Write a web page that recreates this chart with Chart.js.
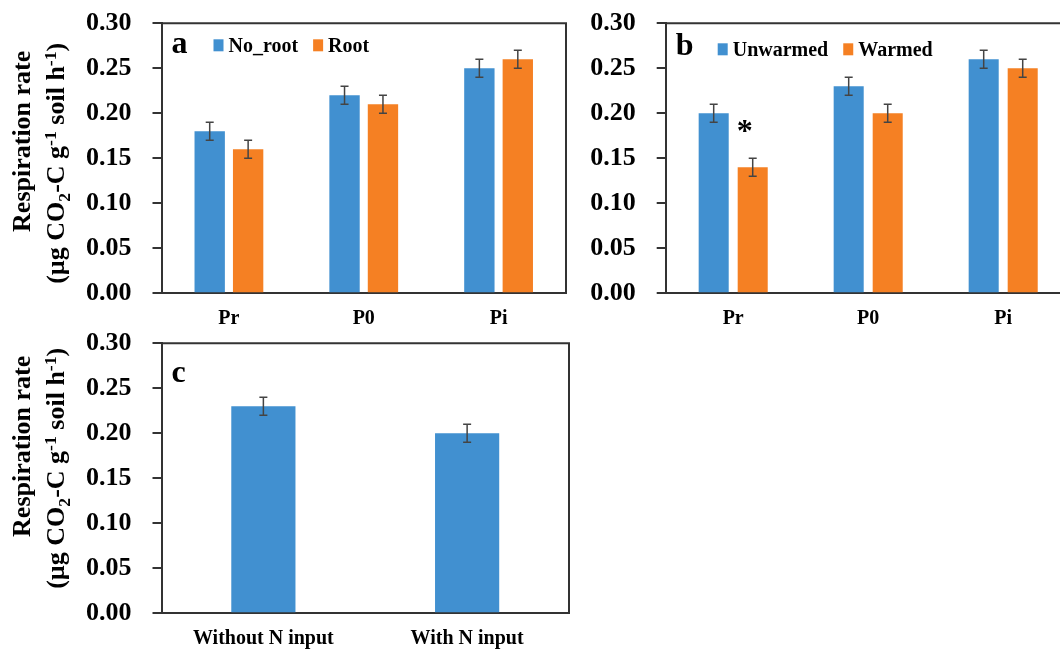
<!DOCTYPE html>
<html>
<head>
<meta charset="utf-8">
<script src="https://cdn.jsdelivr.net/npm/chart.js@4.4.1/dist/chart.umd.min.js"></script>
<style>
  html, body { margin: 0; padding: 0; background: #fff; }
  body { width: 1060px; height: 649px; overflow: hidden; position: relative; }
  canvas { position: absolute; }
</style>
</head>
<body>
<canvas id="chartA" width="580" height="330" style="left:0;top:0"></canvas>
<canvas id="chartB" width="520" height="330" style="left:560px;top:0"></canvas>
<canvas id="chartC" width="580" height="329" style="left:0;top:320px"></canvas>
<script>
// valeurs
const groups = ['Pr', 'P0', 'Pi'];
const noRoot = [0.18, 0.22, 0.25];
const noRootErr = [0.01, 0.01, 0.01];
const root = [0.16, 0.21, 0.26];
const rootErr = [0.01, 0.01, 0.01];

const unwarmed = [0.20, 0.23, 0.26];
const unwarmedErr = [0.01, 0.01, 0.01];
const warmed = [0.14, 0.20, 0.25];
const warmedErr = [0.01, 0.01, 0.01];
const warmedMarks = ['*', '', ''];

const nCats = ['Without N input', 'With N input'];
const nRates = [0.23, 0.20];
const nRatesErr = [0.01, 0.01];

const yTicks = [0, 0.05, 0.10, 0.15, 0.20, 0.25, 0.30];

const BLUE = '#4190D0';
const ORANGE = '#F58023';
const LINE = '#333333';
const FONT = '"Liberation Serif", "Times New Roman", serif';

// titre de l'axe y avec indices / exposants
const yTitleLines = [
    [{ t: 'Respiration rate' }],
    [{ t: '(\u00b5g CO' }, { t: '2', sub: true }, { t: '-C g' }, { t: '-1', sup: true },
     { t: ' soil h' }, { t: '-1', sup: true }, { t: ')' }]
];

function drawRich(ctx, segs, size) {
    const small = size * 0.68;
    let total = 0;
    segs.forEach(s => {
        ctx.font = `bold ${s.sub || s.sup ? small : size}px ${FONT}`;
        s.w = ctx.measureText(s.t).width;
        total += s.w;
    });
    let x = -total / 2;
    segs.forEach(s => {
        ctx.font = `bold ${s.sub || s.sup ? small : size}px ${FONT}`;
        let dy = 0;
        if (s.sub) dy = size * 0.22;
        if (s.sup) dy = -size * 0.33;
        ctx.fillText(s.t, x, size * 0.32 + dy);
        x += s.w;
    });
}

const decor = {
    id: 'decor',
    afterDatasetsDraw(chart, args, opts) {
        const ctx = chart.ctx;
        const a = chart.chartArea;
        const y = chart.scales.y;
        ctx.save();

        // cadre haut et droit
        ctx.strokeStyle = LINE;
        ctx.lineWidth = 2;
        ctx.beginPath();
        ctx.moveTo(a.left, a.top);
        ctx.lineTo(a.right, a.top);
        ctx.lineTo(a.right, a.bottom);
        ctx.stroke();

        // barres d'erreur
        chart.data.datasets.forEach((ds, di) => {
            const meta = chart.getDatasetMeta(di);
            ds.errors.forEach((e, i) => {
                const bx = meta.data[i].x;
                const y1 = y.getPixelForValue(ds.data[i] + e);
                const y2 = y.getPixelForValue(ds.data[i] - e);
                ctx.strokeStyle = '#444';
                ctx.lineWidth = 1.5;
                ctx.beginPath();
                ctx.moveTo(bx, y1); ctx.lineTo(bx, y2);
                ctx.moveTo(bx - 4, y1); ctx.lineTo(bx + 4, y1);
                ctx.moveTo(bx - 4, y2); ctx.lineTo(bx + 4, y2);
                ctx.stroke();
                if (ds.marks && ds.marks[i]) {
                    ctx.fillStyle = '#000';
                    ctx.font = `bold 32px ${FONT}`;
                    ctx.textAlign = 'center';
                    ctx.textBaseline = 'alphabetic';
                    const m = ctx.measureText(ds.marks[i]);
                    const cy = y1 - 32;
                    const base = cy + (m.actualBoundingBoxAscent - m.actualBoundingBoxDescent) / 2;
                    ctx.fillText(ds.marks[i], bx - 8, base);
                }
            });
        });

        // lettre du panneau
        ctx.fillStyle = '#000';
        ctx.textAlign = 'left';
        ctx.textBaseline = 'alphabetic';
        ctx.font = `bold 32px ${FONT}`;
        ctx.fillText(opts.letter, a.left + 10, a.top + opts.letterY);

        // légende
        if (opts.legend) {
            let lx = a.left + 52;
            const cy = a.top + opts.legendY;
            ctx.font = `bold 20px ${FONT}`;
            chart.data.datasets.forEach(ds => {
                ctx.fillStyle = ds.backgroundColor;
                ctx.fillRect(lx, cy - 6, 10, 12);
                lx += 15;
                ctx.fillStyle = '#000';
                ctx.fillText(ds.label, lx, cy + 7);
                lx += ctx.measureText(ds.label).width + 15;
            });
        }

        // titre de l'axe y
        if (opts.yTitle) {
            const yc = (a.top + a.bottom) / 2 + opts.titleDy;
            ctx.fillStyle = '#000';
            ctx.textAlign = 'left';
            ctx.textBaseline = 'alphabetic';
            [[21.5, -11], [56, 11]].forEach(([x, dy], k) => {
                ctx.save();
                ctx.translate(x, yc + dy);
                ctx.rotate(-Math.PI / 2);
                drawRich(ctx, yTitleLines[k], 26);
                ctx.restore();
            });
        }
        ctx.restore();
    }
};

function makeChart(id, labels, datasets, cfg) {
    return new Chart(document.getElementById(id), {
        type: 'bar',
        data: { labels: labels, datasets: datasets },
        options: {
            responsive: false,
            animation: false,
            devicePixelRatio: 1,
            layout: { padding: { top: cfg.top, right: cfg.right, left: 0, bottom: 0 } },
            datasets: { bar: { categoryPercentage: cfg.cat, barPercentage: cfg.bar } },
            plugins: {
                legend: { display: false },
                tooltip: { enabled: false },
                decor: cfg.decor
            },
            scales: {
                x: {
                    afterFit: s => { s.height = cfg.xh; s.paddingLeft = 0; s.paddingRight = 0; },
                    grid: { display: false, drawTicks: false },
                    border: { display: true, color: LINE, width: 2 },
                    ticks: { color: '#000', padding: 14, font: { family: FONT, size: 20, weight: 'bold' } }
                },
                y: {
                    min: 0,
                    max: 0.3,
                    afterFit: s => { s.width = cfg.yw; s.paddingTop = 0; s.paddingBottom = 0; },
                    afterBuildTicks: s => { s.ticks = yTicks.map(v => ({ value: v })); },
                    grid: { drawOnChartArea: false, drawTicks: true, tickLength: 9, tickColor: LINE, lineWidth: 2 },
                    border: { display: true, color: LINE, width: 2 },
                    ticks: {
                        color: '#000', padding: 21,
                        font: { family: FONT, size: 26, weight: 'bold' },
                        callback: v => Number(v).toFixed(2)
                    }
                }
            }
        },
        plugins: [decor]
    });
}

makeChart('chartA', groups, [
    { label: 'No_root', data: noRoot, errors: noRootErr, backgroundColor: BLUE },
    { label: 'Root', data: root, errors: rootErr, backgroundColor: ORANGE }
], { top: 23.3, right: 14, xh: 36.7, yw: 161.5, cat: 0.57, bar: 0.79,
     decor: { letter: 'a', letterY: 30, legend: true, legendY: 22, yTitle: true, titleDy: -6 } });

makeChart('chartB', groups, [
    { label: 'Unwarmed', data: unwarmed, errors: unwarmedErr, backgroundColor: BLUE },
    { label: 'Warmed', data: warmed, errors: warmedErr, marks: warmedMarks, backgroundColor: ORANGE }
], { top: 23.3, right: 9.3, xh: 36.7, yw: 105.7, cat: 0.578, bar: 0.77,
     decor: { letter: 'b', letterY: 32, legend: true, legendY: 26, yTitle: false } });

makeChart('chartC', nCats, [
    { label: 'Respiration', data: nRates, errors: nRatesErr, backgroundColor: BLUE }
], { top: 23.3, right: 11, xh: 35.7, yw: 161.5, cat: 0.35, bar: 0.9,
     decor: { letter: 'c', letterY: 39, legend: false, yTitle: true, titleDy: -21 } });
</script>
</body>
</html>
